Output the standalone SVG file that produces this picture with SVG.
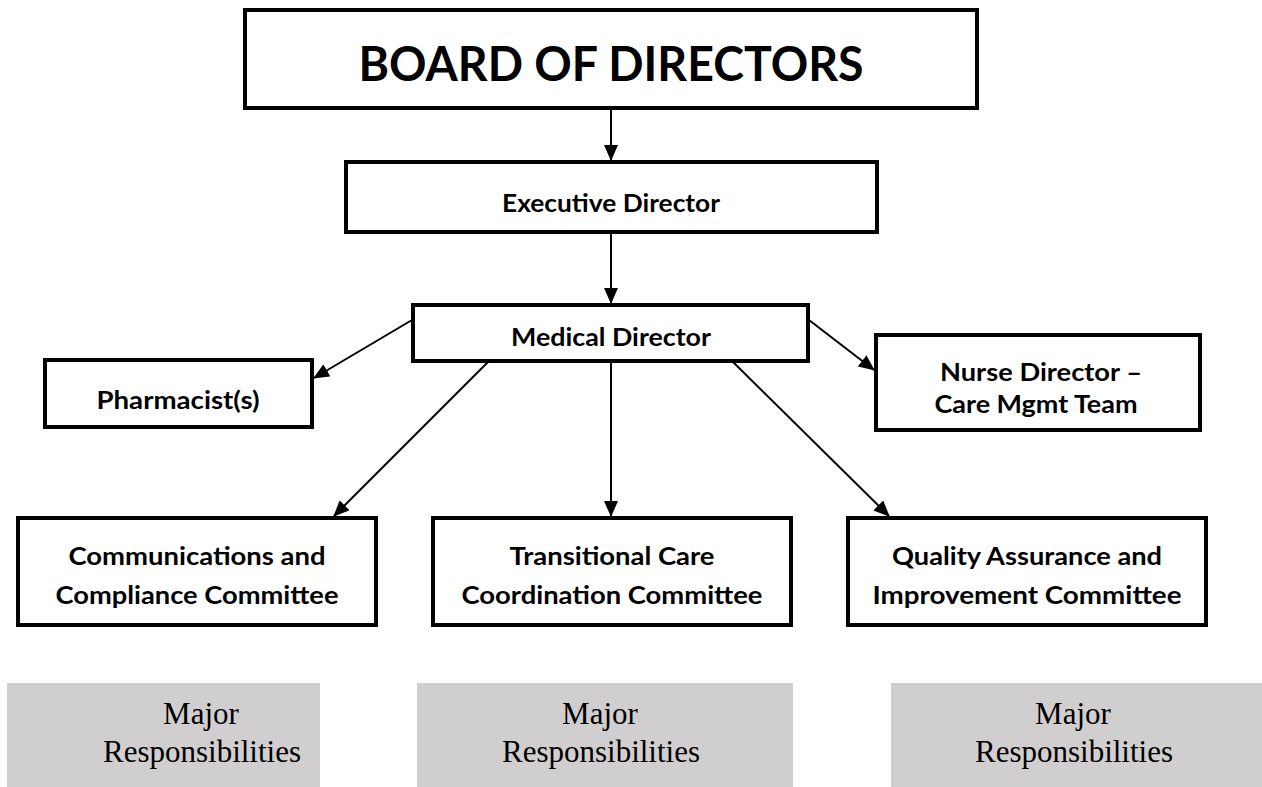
<svg xmlns="http://www.w3.org/2000/svg" width="1262" height="787" viewBox="0 0 1262 787">
<style>
.box{fill:#fff;stroke:#000;stroke-width:4}
.gray{fill:#D0CECE;stroke:none}
.t{font-family:Lato,"Liberation Sans",Arial,sans-serif;font-weight:bold;fill:#000;text-anchor:middle;font-size:25px}
.big{font-size:48px}
.s{font-family:"Liberation Serif","Times New Roman",serif;fill:#000;text-anchor:middle;font-size:31px}
.c{stroke:#000;stroke-width:2;fill:none;marker-end:url(#ah)}
</style>
<defs>
<marker id="ah" markerWidth="16" markerHeight="14" refX="15" refY="7" orient="auto" markerUnits="userSpaceOnUse">
<path d="M0,0 L16,7 L0,14 Z" fill="#000"/>
</marker>
</defs>
<rect width="1262" height="787" fill="#fff"/>
<g id="connectors">
<line class="c" x1="611" y1="108" x2="611" y2="160"/>
<line class="c" x1="611" y1="232" x2="611" y2="303"/>
<line class="c" x1="412" y1="320" x2="314" y2="378"/>
<line class="c" x1="809" y1="320" x2="874" y2="370"/>
<line class="c" x1="488" y1="362" x2="334" y2="516"/>
<line class="c" x1="611" y1="362" x2="611" y2="516"/>
<line class="c" x1="733" y1="362" x2="889" y2="516"/>
</g>
<g id="board">
<rect class="box" x="245" y="10" width="732" height="98"/>
<text class="t big" x="611" y="81" textLength="505" lengthAdjust="spacingAndGlyphs">BOARD OF DIRECTORS</text>
</g>
<g id="exec">
<rect class="box" x="346" y="162" width="531" height="70"/>
<text class="t" x="611" y="212" textLength="218" lengthAdjust="spacingAndGlyphs">Executive Director</text>
</g>
<g id="medical">
<rect class="box" x="413" y="305" width="395" height="56"/>
<text class="t" x="611" y="346" textLength="200" lengthAdjust="spacingAndGlyphs">Medical Director</text>
</g>
<g id="pharmacist">
<rect class="box" x="45" y="360" width="267" height="67"/>
<text class="t" x="178" y="409" textLength="163" lengthAdjust="spacingAndGlyphs">Pharmacist(s)</text>
</g>
<g id="nurse">
<rect class="box" x="876" y="335" width="324" height="95"/>
<text class="t" x="1041" y="381" textLength="202" lengthAdjust="spacingAndGlyphs">Nurse Director –</text>
<text class="t" x="1036" y="413" textLength="203" lengthAdjust="spacingAndGlyphs">Care Mgmt Team</text>
</g>
<g id="comm">
<rect class="box" x="18" y="518" width="358" height="107"/>
<text class="t" x="197" y="565" textLength="257" lengthAdjust="spacingAndGlyphs">Communications and</text>
<text class="t" x="197" y="604" textLength="283" lengthAdjust="spacingAndGlyphs">Compliance Committee</text>
</g>
<g id="trans">
<rect class="box" x="433" y="518" width="358" height="107"/>
<text class="t" x="612" y="565" textLength="205" lengthAdjust="spacingAndGlyphs">Transitional Care</text>
<text class="t" x="612" y="604" textLength="301" lengthAdjust="spacingAndGlyphs">Coordination Committee</text>
</g>
<g id="quality">
<rect class="box" x="848" y="518" width="358" height="107"/>
<text class="t" x="1027" y="565" textLength="270" lengthAdjust="spacingAndGlyphs">Quality Assurance and</text>
<text class="t" x="1027" y="604" textLength="309" lengthAdjust="spacingAndGlyphs">Improvement Committee</text>
</g>
<g id="resp1">
<rect class="gray" x="7" y="683" width="313" height="104"/>
<text class="s" x="201" y="724">Major</text>
<text class="s" x="202" y="762">Responsibilities</text>
</g>
<g id="resp2">
<rect class="gray" x="417" y="683" width="376" height="104"/>
<text class="s" x="600" y="724">Major</text>
<text class="s" x="601" y="762">Responsibilities</text>
</g>
<g id="resp3">
<rect class="gray" x="891" y="683" width="371" height="104"/>
<text class="s" x="1073" y="724">Major</text>
<text class="s" x="1074" y="762">Responsibilities</text>
</g>
</svg>
